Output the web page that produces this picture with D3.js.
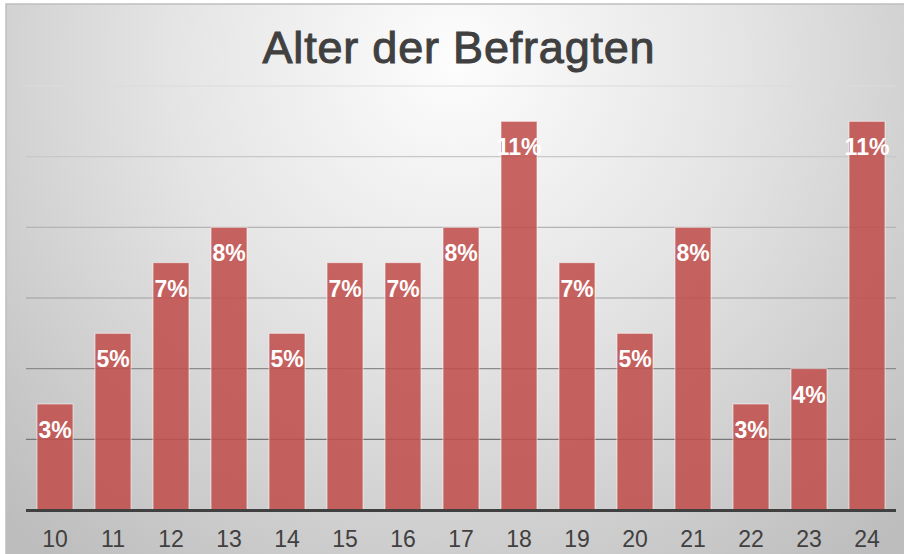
<!DOCTYPE html>
<html lang="de">
<head>
<meta charset="utf-8">
<title>Alter der Befragten</title>
<style>
  body { margin: 0; background: #fff; }
  svg { display: block; font-family: "Liberation Sans", Arial, sans-serif; }
  .title { font-size: 45px; fill: #404040; letter-spacing: 0.8px; stroke: #404040; stroke-width: 1px; }
  .value { font-size: 23px; font-weight: bold; fill: #fff; }
  .xlabel { font-size: 23px; fill: #404040; }
</style>
</head>
<body>
<svg width="904" height="554"></svg>
<script src="https://d3js.org/d3.v7.min.js"></script>
<script>
// data
var ages = ['10','11','12','13','14','15','16','17','18','19','20','21','22','23','24'];
var shares = [3, 5, 7, 8, 5, 7, 7, 8, 11, 7, 5, 8, 3, 4, 11];
var gridTicks = [2, 4, 6, 8, 10, 12];
var chartTitle = 'Alter der Befragten';

var svg = d3.select('svg');

// background panel with radial gradient
var defs = svg.append('defs');
var grad = defs.append('radialGradient')
  .attr('id', 'bg')
  .attr('gradientUnits', 'userSpaceOnUse')
  .attr('cx', 455).attr('cy', 60).attr('r', 640);
grad.append('stop').attr('offset', '0').attr('stop-color', '#fdfdfd');
grad.append('stop').attr('offset', '0.45').attr('stop-color', '#e4e4e4');
grad.append('stop').attr('offset', '1').attr('stop-color', '#bdbdbd');

svg.append('rect')
  .attr('x', 6).attr('y', 4)
  .attr('width', 904).attr('height', 560)
  .attr('fill', 'url(#bg)')
  .attr('stroke', '#bfbfbf')
  .attr('stroke-width', 1.5);

var x = d3.scaleBand()
  .domain(ages)
  .range([26, 896])
  .paddingInner(0.38)
  .paddingOuter(0.19);

var y = d3.scaleLinear()
  .domain([0, 12])
  .range([510, 86]);

var gridColor = d3.scaleLinear()
  .domain([12, 2])
  .range(['#dcdcdc', '#777777']);

// gridlines
svg.append('g')
  .selectAll('line')
  .data(gridTicks)
  .join('line')
  .attr('x1', 26).attr('x2', 896)
  .attr('y1', d => y(d)).attr('y2', d => y(d))
  .attr('stroke', d => gridColor(d))
  .attr('stroke-width', 1.2);

// bars
svg.append('g')
  .selectAll('rect')
  .data(shares)
  .join('rect')
  .attr('x', (d, i) => x(ages[i]))
  .attr('y', d => y(d))
  .attr('width', x.bandwidth())
  .attr('height', d => y(0) - y(d))
  .attr('fill', '#c0504d')
  .attr('fill-opacity', 0.88)
  .attr('stroke', 'rgba(255,255,255,0.55)')
  .attr('stroke-width', 1);

// baseline
svg.append('line')
  .attr('x1', 26).attr('x2', 896)
  .attr('y1', y(0) + 0.5).attr('y2', y(0) + 0.5)
  .attr('stroke', '#404040')
  .attr('stroke-width', 3);

// value labels
svg.append('g')
  .selectAll('text')
  .data(shares)
  .join('text')
  .attr('class', 'value')
  .attr('x', (d, i) => x(ages[i]) + x.bandwidth() / 2)
  .attr('y', d => y(d) + 34)
  .attr('text-anchor', 'middle')
  .text(d => d + '%');

// category axis labels
svg.append('g')
  .selectAll('text')
  .data(ages)
  .join('text')
  .attr('class', 'xlabel')
  .attr('x', d => x(d) + x.bandwidth() / 2)
  .attr('y', 547)
  .attr('text-anchor', 'middle')
  .text(d => d);

// title
svg.append('text')
  .attr('class', 'title')
  .attr('x', 459)
  .attr('y', 63)
  .attr('text-anchor', 'middle')
  .text(chartTitle);
</script>
</body>
</html>
